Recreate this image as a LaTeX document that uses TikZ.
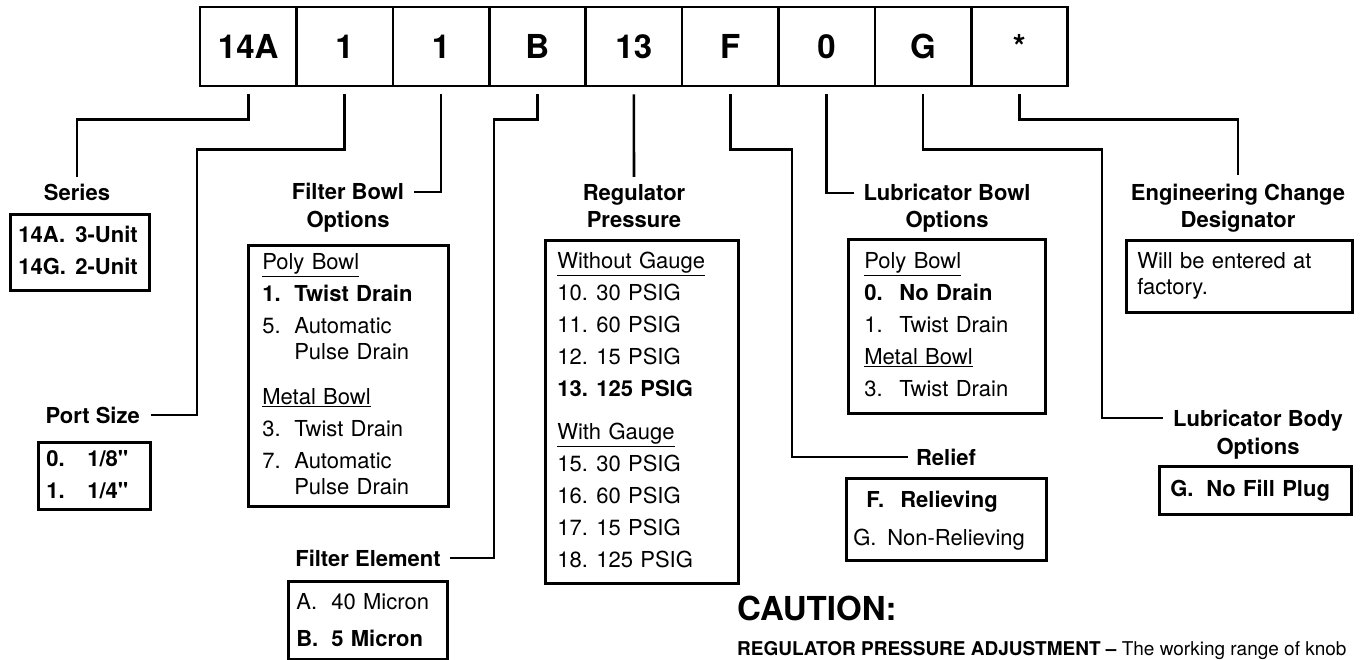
\documentclass[tikz,border=0pt]{standalone}
\usepackage{fontspec}
\setmainfont{TeX Gyre Heros}
\usetikzlibrary{calc}
\newlength{\numw}
\newcommand{\opt}[2]{\makebox[\numw][l]{#1}#2}
\tikzset{
  cell/.style={draw,line width=2.6pt,minimum width=96.4pt,minimum height=79pt,inner sep=0pt,font=\fontsize{33}{36}\selectfont\bfseries},
  ttl/.style={inner sep=0pt,text height=16pt,text depth=0pt,font=\fontsize{22}{26}\selectfont\bfseries},
  optbox/.style={draw,line width=2.6pt,anchor=north west,align=left,inner ysep=0pt,font=\fontsize{22}{32}\selectfont},
  conn/.style={line width=2.6pt}
}

\begin{document}
\begin{tikzpicture}[x=1pt,y=-1pt]
  \useasboundingbox (0,0) rectangle (1362,660);

  % 型号格子
  \foreach \t [count=\i] in {14A,1,1,B,13,F,0,G,*}
    \node[cell] (c\i) at ({200+96.4*(\i-0.5)},46.5) {\t};

  % 标题
  \node[ttl] (series) at (77,193) {Series};
  \node[ttl,anchor=east] (port) at (140,415) {Port Size};
  \node[ttl] (fbowl) at (348,192) {Filter Bowl};
  \node[ttl] (fbowl2) at (348,220) {Options};
  \node[ttl] (felem) at (368,558) {Filter Element};
  \node[ttl] (reg) at (634,193) {Regulator};
  \node[ttl] (reg2) at (634,220) {Pressure};
  \node[ttl] (relief) at (946,457) {Relief};
  \node[ttl] (lbowl) at (947,193) {Lubricator Bowl};
  \node[ttl] (lbowl2) at (947,220) {Options};
  \node[ttl] (lbody) at (1258,418) {Lubricator Body};
  \node[ttl] (lbody2) at (1258,446) {Options};
  \node[ttl] (eng) at (1238,193) {Engineering Change};
  \node[ttl] (eng2) at (1238,220) {Designator};

  % 连线
  \draw[conn] ([yshift=-7pt]c1.south) -- ++(0,25) -| ([yshift=8pt]series.north);
  \draw[conn] ([yshift=-7pt]c2.south) -- ++(0,55) -| ($(port.east)+(57,0)$) -- ($(port.east)+(11,0)$);
  \draw[conn] ([yshift=-7pt]c3.south) |- ($(fbowl.east)+(10,0)$);
  \draw[conn] ([yshift=-7pt]c4.south) -- ++(0,25) -| ($(felem.east)+(53,0)$) -- ($(felem.east)+(9,0)$);
  \draw[conn] ([yshift=-7pt]c5.south) -- ([yshift=8pt]reg.north);
  \draw[conn] ([yshift=-7pt]c6.south) -- ++(0,55) -| ($(relief.west)+(-124,0)$) -- ($(relief.west)+(-8,0)$);
  \draw[conn] ([yshift=-7pt]c7.south) |- ($(lbowl.west)+(-9,0)$);
  \draw[conn] ([yshift=-7pt]c8.south) -- ++(0,55) -| ($(lbody.west)+(-71,0)$) -- ($(lbody.west)+(-10,0)$);
  \draw[conn] ([yshift=-7pt]c9.south) -- ++(0,25) -| ([yshift=10pt]eng.north);

  % 选项框
  \node[optbox,font=\fontsize{22}{32}\selectfont\bfseries,inner xsep=8pt,text width=123pt,minimum height=76pt] (seriesbox) at (9,213)
    {\setlength{\numw}{57pt}\begin{tabular}{@{}l@{}}\opt{14A.}{3-Unit}\\\opt{14G.}{2-Unit}\end{tabular}};
  \node[optbox,font=\fontsize{22}{32}\selectfont\bfseries,inner xsep=8pt,text width=96pt,minimum height=67pt] (portbox) at (37,441)
    {\setlength{\numw}{41pt}\begin{tabular}{@{}l@{}}\opt{0.}{1/8\textquotedbl}\\\opt{1.}{1/4\textquotedbl}\end{tabular}};
  \node[optbox,inner xsep=14pt,text width=172pt,minimum height=261pt] (fbowlbox) at (247,244)
    {\setlength{\numw}{32pt}\begin{tabular}{@{}l@{}}
      \underline{Poly Bowl}\\
      \textbf{\opt{1.}{Twist Drain}}\\
      \opt{5.}{Automatic}\\[-6pt]
      \opt{}{Pulse Drain}\\[13pt]
      \underline{Metal Bowl}\\
      \opt{3.}{Twist Drain}\\
      \opt{7.}{Automatic}\\[-6pt]
      \opt{}{Pulse Drain}
    \end{tabular}};
  \node[optbox,font=\fontsize{22}{37}\selectfont,inner xsep=8pt,text width=143pt,minimum height=78pt] (felembox) at (287,580)
    {\setlength{\numw}{35pt}\begin{tabular}{@{}l@{}}\opt{A.}{40 Micron}\\\textbf{\opt{B.}{5 Micron}}\end{tabular}};
  \node[optbox,inner xsep=12pt,text width=169pt,minimum height=343pt] (regbox) at (544,239)
    {\setlength{\numw}{39pt}\begin{tabular}{@{}l@{}}
      \underline{Without Gauge}\\
      \opt{10.}{30 PSIG}\\
      \opt{11.}{60 PSIG}\\
      \opt{12.}{15 PSIG}\\
      \textbf{\opt{13.}{125 PSIG}}\\[11pt]
      \underline{With Gauge}\\
      \opt{15.}{30 PSIG}\\
      \opt{16.}{60 PSIG}\\
      \opt{17.}{15 PSIG}\\
      \opt{18.}{125 PSIG}
    \end{tabular}};
  \node[optbox,font=\fontsize{22}{38}\selectfont,inner xsep=7pt,text width=186pt,minimum height=82pt] (reliefbox) at (845,477)
    {\setlength{\numw}{34pt}\begin{tabular}{@{}l@{}}\textbf{\hspace{13pt}\opt{F.}{Relieving}}\\\opt{G.}{Non-Relieving}\end{tabular}};
  \node[optbox,inner xsep=16pt,text width=165pt,minimum height=174pt] (lbowlbox) at (847,238)
    {\setlength{\numw}{35pt}\begin{tabular}{@{}l@{}}
      \underline{Poly Bowl}\\
      \textbf{\opt{0.}{No Drain}}\\
      \opt{1.}{Twist Drain}\\
      \underline{Metal Bowl}\\
      \opt{3.}{Twist Drain}
    \end{tabular}};
  \node[optbox,font=\fontsize{22}{32}\selectfont\bfseries,inner xsep=11pt,text width=170pt,minimum height=48pt] (lbodybox) at (1158,465)
    {\setlength{\numw}{36pt}\begin{tabular}{@{}l@{}}\opt{G.}{No Fill Plug}\end{tabular}};
  \node[optbox,font=\fontsize{22}{26}\selectfont,inner xsep=11pt,text width=204pt,minimum height=72pt] (engbox) at (1125,239)
    {\begin{tabular}{@{}l@{}}Will be entered at\\factory.\end{tabular}};

  % 注意事项
  \node[anchor=base west,inner sep=0pt,font=\fontsize{33}{36}\selectfont\bfseries] (caution) at (737,620) {CAUTION:};
  \node[anchor=base west,inner sep=0pt,font=\fontsize{19}{22}\selectfont] (adjust) at (737,655)
    {\textbf{REGULATOR PRESSURE ADJUSTMENT --} The working range of knob};
\end{tikzpicture}
\end{document}
